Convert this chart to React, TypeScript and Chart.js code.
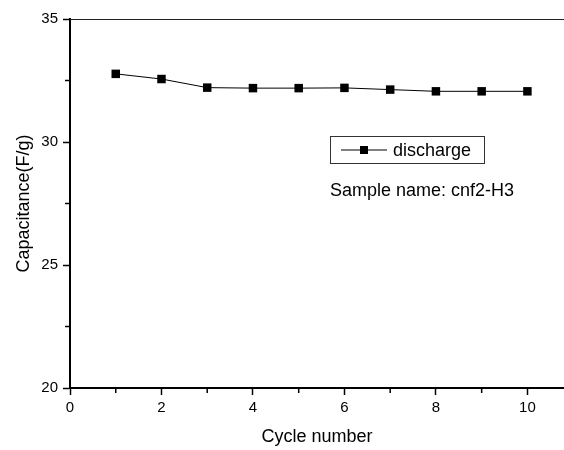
import React, { useEffect, useRef } from "react";
import { Chart, registerables } from "chart.js";

Chart.register(...registerables);

const cycles = [1, 2, 3, 4, 5, 6, 7, 8, 9, 10];
const discharge = [32.77, 32.56, 32.21, 32.19, 32.19, 32.2, 32.13, 32.06, 32.06, 32.06];
const xMajorTicks = [0, 2, 4, 6, 8, 10];
const xMinorTicks = [1, 3, 5, 7, 9];
const yMajorTicks = [20, 25, 30, 35];
const yMinorTicks = [22.5, 27.5, 32.5];
const seriesLabel = "discharge";
const sampleText = "Sample name: cnf2-H3";
const xTitle = "Cycle number";
const yTitle = "Capacitance(F/g)";

const FONT = "'Liberation Sans', Arial, Helvetica, sans-serif";

const decorPlugin = {
  id: "decor",
  afterDraw(chart: any) {
    const { ctx, chartArea } = chart;
    const xs = chart.scales.x;
    const ys = chart.scales.y;
    ctx.save();
    // top border
    ctx.strokeStyle = "#222";
    ctx.lineWidth = 1;
    ctx.beginPath();
    ctx.moveTo(chartArea.left, chartArea.top + 0.5);
    ctx.lineTo(chartArea.right, chartArea.top + 0.5);
    ctx.stroke();
    // minor ticks
    ctx.strokeStyle = "#000";
    ctx.lineWidth = 1.5;
    xMinorTicks.forEach((v) => {
      const px = xs.getPixelForValue(v);
      ctx.beginPath();
      ctx.moveTo(px, chartArea.bottom);
      ctx.lineTo(px, chartArea.bottom + 5);
      ctx.stroke();
    });
    yMinorTicks.forEach((v) => {
      const py = ys.getPixelForValue(v);
      ctx.beginPath();
      ctx.moveTo(chartArea.left, py);
      ctx.lineTo(chartArea.left - 5, py);
      ctx.stroke();
    });
    // legend box
    const lx = chartArea.left + 260;
    const ly = chartArea.top + 117;
    const lw = 154;
    const lh = 27;
    ctx.strokeStyle = "#333";
    ctx.lineWidth = 1;
    ctx.strokeRect(lx + 0.5, ly + 0.5, lw, lh);
    const cy = ly + lh / 2 + 0.5;
    ctx.strokeStyle = "#000";
    ctx.beginPath();
    ctx.moveTo(lx + 11, cy);
    ctx.lineTo(lx + 57, cy);
    ctx.stroke();
    ctx.fillStyle = "#000";
    ctx.fillRect(lx + 34 - 4, cy - 4, 8, 8);
    ctx.font = `18px ${FONT}`;
    ctx.textBaseline = "middle";
    ctx.textAlign = "left";
    ctx.fillText(seriesLabel, lx + 63, cy + 1);
    ctx.fillText(sampleText, lx, ly + 55);
    ctx.restore();
  },
};

export default function App() {
  const ref = useRef<HTMLCanvasElement>(null);
  useEffect(() => {
    document.body.style.margin = "0";
    const chart = new Chart(ref.current as HTMLCanvasElement, {
      type: "line",
      data: {
        datasets: [
          {
            label: seriesLabel,
            data: cycles.map((c, i) => ({ x: c, y: discharge[i] })),
            borderColor: "#000",
            borderWidth: 1,
            backgroundColor: "#000",
            pointStyle: "rect",
            pointRadius: 6,
            pointBorderWidth: 0,
            pointBackgroundColor: "#000",
            tension: 0,
          },
        ],
      },
      options: {
        responsive: false,
        animation: false,
        layout: { autoPadding: false, padding: { top: 19, right: 0, left: 0, bottom: 0 } },
        plugins: { legend: { display: false }, tooltip: { enabled: false } },
        scales: {
          x: {
            type: "linear",
            min: 0,
            max: 10.8,
            afterBuildTicks: (s: any) => {
              s.ticks = xMajorTicks.map((v) => ({ value: v }));
            },
            afterFit: (s: any) => {
              s.height = 62;
            },
            grid: {
              drawOnChartArea: false,
              drawTicks: true,
              tickLength: 7,
              tickColor: "#000",
              tickWidth: 1.5,
            },
            border: { display: true, color: "#000", width: 2 },
            ticks: {
              color: "#000",
              padding: 4,
              font: { family: FONT, size: 15 },
              maxRotation: 0,
            },
            title: {
              display: true,
              text: xTitle,
              color: "#000",
              font: { family: FONT, size: 18 },
              padding: { top: 0, bottom: 2 },
            },
          },
          y: {
            type: "linear",
            min: 20,
            max: 35,
            afterBuildTicks: (s: any) => {
              s.ticks = yMajorTicks.map((v) => ({ value: v }));
            },
            afterFit: (s: any) => {
              s.width = 70;
            },
            grid: {
              drawOnChartArea: false,
              drawTicks: true,
              tickLength: 7,
              tickColor: "#000",
              tickWidth: 1.5,
            },
            border: { display: true, color: "#000", width: 2 },
            ticks: {
              color: "#000",
              padding: 5,
              font: { family: FONT, size: 15 },
            },
            title: {
              display: true,
              text: yTitle,
              color: "#000",
              font: { family: FONT, size: 18 },
              padding: { top: 13, bottom: 0 },
            },
          },
        },
      },
      plugins: [decorPlugin],
    } as any);
    return () => chart.destroy();
  }, []);
  return (
    <div style={{ width: 564, height: 450, background: "#fff" }}>
      <canvas ref={ref} width={564} height={450} />
    </div>
  );
}
